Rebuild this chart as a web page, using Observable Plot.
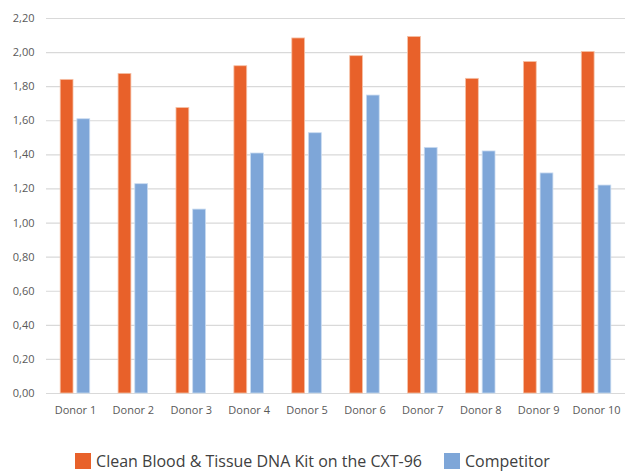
<!DOCTYPE html>
<html>
<head>
<meta charset="utf-8">
<script src="https://cdn.jsdelivr.net/npm/d3@7"></script>
<script src="https://cdn.jsdelivr.net/npm/@observablehq/plot@0.6"></script>
<style>
  body { margin: 0; background: #fff; }
  #chart { position: relative; width: 625px; height: 472px; overflow: hidden; }
  .legend { position: absolute; left: 0; top: 453px; height: 16px; width: 625px; display: flex; justify-content: center; align-items: center; font-family: "Open Sans", sans-serif; font-size: 16px; line-height: 16px; color: #404040; }
  .legend .item { display: flex; align-items: center; margin: 0 11px; }
  .legend .sw { width: 16px; height: 16px; margin-right: 5px; }
</style>
</head>
<body>
<div id="chart"></div>
<script>
const donors = ["Donor 1","Donor 2","Donor 3","Donor 4","Donor 5","Donor 6","Donor 7","Donor 8","Donor 9","Donor 10"];
const seriesNames = ["Clean Blood & Tissue DNA Kit on the CXT-96", "Competitor"];
const cleanValues = [1.84, 1.875, 1.675, 1.92, 2.083, 1.979, 2.092, 1.846, 1.945, 2.004];
const competitorValues = [1.609, 1.228, 1.079, 1.408, 1.527, 1.748, 1.441, 1.420, 1.291, 1.220];
const yTicks = [0, 0.2, 0.4, 0.6, 0.8, 1.0, 1.2, 1.4, 1.6, 1.8, 2.0, 2.2];
const colors = ["#E8612A", "#7EA6D8"];

const clean = donors.map((d, i) => ({donor: d, value: cleanValues[i]}));
const comp = donors.map((d, i) => ({donor: d, value: competitorValues[i]}));

const fmt = v => v.toFixed(2).replace(".", ",");

const plot = Plot.plot({
  width: 625,
  height: 430,
  marginTop: 18,
  marginBottom: 37,
  marginLeft: 46,
  marginRight: 0,
  style: {fontFamily: "'Open Sans', sans-serif", fontSize: "11px", color: "#595959", background: "white"},
  x: {domain: donors, paddingInner: 0.49, paddingOuter: 0.245, round: false, label: null, tickSize: 0, tickPadding: 13},
  y: {domain: [0, 2.2], ticks: yTicks, tickFormat: fmt, label: null, tickSize: 0, tickPadding: 12},
  marks: [
    Plot.ruleY(yTicks, {stroke: "#d9d9d9", strokeWidth: 1.2}),
    Plot.barY(clean, {x: "donor", y: "value", fill: colors[0], insetRight: 16.7, stroke: "#f6c2a8", strokeWidth: 0.8}),
    Plot.barY(comp, {x: "donor", y: "value", fill: colors[1], insetLeft: 16.7, stroke: "#c9dbf0", strokeWidth: 0.8})
  ]
});
const chart = document.getElementById("chart");
chart.appendChild(plot);

const legend = document.createElement("div");
legend.className = "legend";
seriesNames.forEach((name, i) => {
  const item = document.createElement("div");
  item.className = "item";
  const sw = document.createElement("div");
  sw.className = "sw";
  sw.style.background = colors[i];
  const t = document.createElement("span");
  t.textContent = name;
  item.appendChild(sw);
  item.appendChild(t);
  legend.appendChild(item);
});
chart.appendChild(legend);
</script>
</body>
</html>
